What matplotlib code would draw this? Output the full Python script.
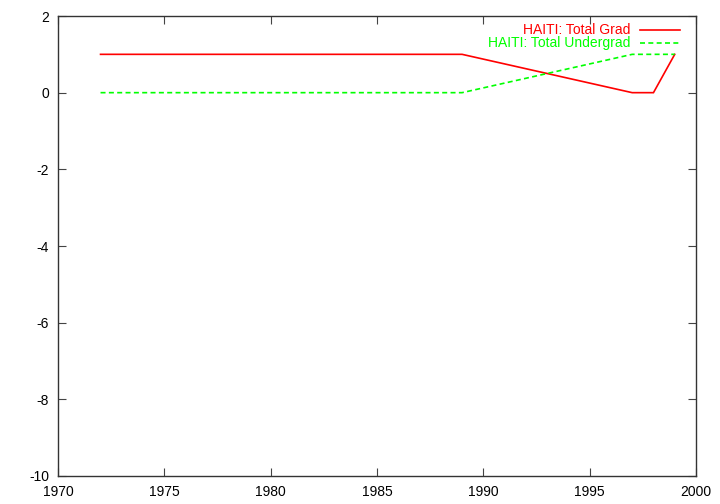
import matplotlib
matplotlib.use("Agg")
import matplotlib.pyplot as plt

years = [1972, 1989, 1997, 1998, 1999]
grad = [1, 1, 0, 0, 1]
undergrad = [0, 0, 1, 1, 1]
labels = ["HAITI: Total Grad", "HAITI: Total Undergrad"]
xticks = [1970, 1975, 1980, 1985, 1990, 1995, 2000]
yticks = [-10, -8, -6, -4, -2, 0, 2]

plt.rcParams['font.family'] = ['Liberation Sans', 'DejaVu Sans']
plt.rcParams['font.size'] = 10
plt.rcParams['axes.unicode_minus'] = False

fig = plt.figure(figsize=(7.2, 5.04), dpi=100)
ax = fig.add_axes([58/720, 1-476/504, (696-58)/720, (476-16)/504])

red = '#ff0000'
green = '#00ff00'
ax.plot(years, grad, color=red, lw=1.2, solid_joinstyle='miter')
ax.plot(years, undergrad, color=green, lw=1.2, dashes=(3, 2))

ax.set_xlim(1970, 2000)
ax.set_ylim(-10, 2)
ax.set_xticks(xticks)
ax.set_yticks(yticks)
ax.tick_params(direction='in', length=6, width=0.8, color='#444444',
               top=True, right=True, labelsize=10)
ax.tick_params(axis='y', pad=6.5)
ax.tick_params(axis='x', pad=6.5)
for s in ax.spines.values():
    s.set_color('#333333')
    s.set_linewidth(1.0)

# legend (gnuplot style: text right aligned, sample to the right)
rows = [(0.9696, red, None), (0.9413, green, (3, 2))]
for (yy, col, dsh), lab in zip(rows, labels):
    ax.text(0.8966, yy, lab, color=col, ha='right', va='center',
            transform=ax.transAxes, fontsize=10)
    kw = dict(color=col, lw=1.2, transform=ax.transAxes, clip_on=False)
    if dsh:
        kw['dashes'] = dsh
    ax.plot([0.912, 0.975], [yy, yy], **kw)

fig.savefig("out.png", dpi=100)
